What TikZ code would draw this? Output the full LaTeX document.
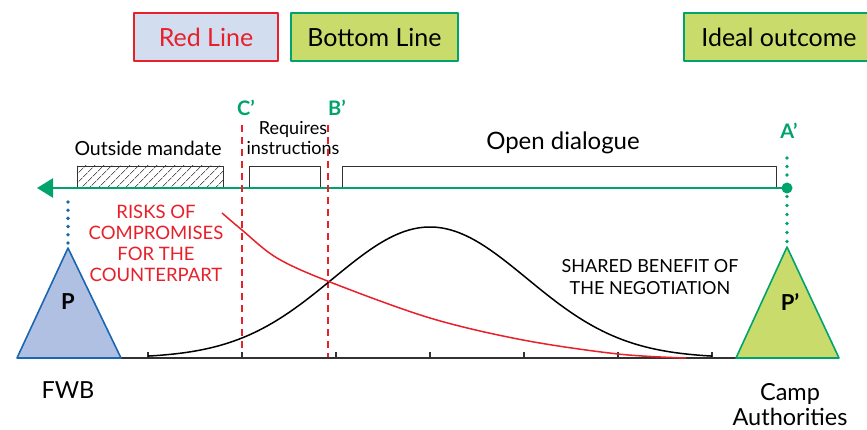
\documentclass[tikz,border=0pt]{standalone}
\usepackage{fontspec}
\setmainfont{Lato}
\usetikzlibrary{arrows.meta,patterns.meta}
\definecolor{negred}{RGB}{232,32,42}
\definecolor{neggreen}{RGB}{0,163,108}
\definecolor{negblue}{RGB}{26,102,176}
\definecolor{boxblue}{RGB}{210,222,240}
\definecolor{boxlime}{RGB}{201,220,107}
\definecolor{triblue}{RGB}{176,192,226}
\definecolor{axisgray}{RGB}{50,50,50}

\begin{document}
\begin{tikzpicture}[x=1pt,y=-1pt,line join=round,every node/.style={inner sep=1pt},
  topbox/.style={draw,line width=1.4pt,minimum height=48pt,font=\fontsize{25}{28}\selectfont},
  zonebox/.style={draw=axisgray,line width=0.8pt},
  zonetext/.style={font=\fontsize{19.5}{22}\selectfont,align=center},
  marker/.style={text=neggreen,font=\fontsize{20}{22}\selectfont\bfseries},
  redlimit/.style={draw=negred,line width=1.6pt,dash pattern=on 7pt off 5pt},
  party/.style={font=\fontsize{23.5}{25}\selectfont,align=center}]
  \useasboundingbox (0,0) rectangle (867,430);
  % cadres du haut
  \node[topbox,draw=negred,fill=boxblue,text=negred,minimum width=144pt] (redline) at (206,37) {Red Line};
  \node[topbox,draw=neggreen,fill=boxlime,minimum width=167pt] (bottomline) at (374.5,37) {Bottom Line};
  \node[topbox,draw=neggreen,fill=boxlime,minimum width=190pt] (ideal) at (779,37) {Ideal outcome};
  % zones le long de l'axe
  \draw[zonebox,pattern={Lines[angle=45,distance=6.5pt,line width=0.6pt]}] (77,166) rectangle (223,188);
  \draw[zonebox] (249,166) rectangle (320,188);
  \draw[zonebox] (342,166) rectangle (776,188);
  \node[zonetext] (outside) at (148,148) {Outside mandate};
  \node[zonetext,font=\fontsize{18}{20}\selectfont] (requires) at (293,138) {Requires\\instructions};
  \node[zonetext,font=\fontsize{24}{26}\selectfont] (open) at (563,143) {Open dialogue};
  % axe vert
  \coordinate (tip) at (37,188);
  \coordinate (aprime) at (787,188);
  \draw[neggreen,line width=2.4pt,-{Triangle[length=16pt,width=19pt]}] (aprime) -- (tip);
  \fill[neggreen] (aprime) circle (5.5);
  \node[marker] (A) at (789,131) {A’};
  \foreach \y in {158,166.5,175}
    \fill[neggreen] (787,\y) circle (1.9);
  % lignes rouges C' et B'
  \node[marker] (C) at (246,108) {C’};
  \node[marker] (B) at (337,108) {B’};
  \draw[redlimit] (242,125) -- (242,358);
  \draw[redlimit] (328,125) -- (328,358);
  % axe du bas
  \draw[axisgray,line width=1.3pt] (78,358) -- (748,358);
  \foreach \t in {148,242,336,430,524,618,712}
    \draw[axisgray,line width=1.3pt] (\t,358) -- (\t,352);
  % courbes
  \draw[black,line width=1.5pt] plot[domain=148:712,samples=120]
    (\x,{358-131*exp(-0.5*((\x-430)/97)^2)});
  \draw[negred,line width=1.5pt] plot[smooth,tension=0.55] coordinates
    {(222,213) (242,230) (277,258) (330,282) (430,318) (523,340) (618,354) (686,358)};
  \node[zonetext,text=negred,font=\fontsize{18.5}{21}\selectfont] (risks) at (156,243)
    {RISKS OF\\COMPROMISES\\FOR THE\\COUNTERPART};
  \node[zonetext,font=\fontsize{18}{22}\selectfont] (shared) at (650,277)
    {SHARED BENEFIT OF\\THE NEGOTIATION};
  % parties
  \draw[negblue,line width=1.6pt,fill=triblue] (17,358) -- (68,248) -- (121,358) -- cycle;
  \draw[neggreen,line width=1.6pt,fill=boxlime] (736,358) -- (787,247) -- (839,358) -- cycle;
  \foreach \y in {202,210.2,218.4,226.6,234.8,243}
    \fill[negblue] (68,\y) circle (1.9);
  \foreach \y in {196.5,205.5,214.5,223.5,232.5,241.5}
    \fill[neggreen] (787,\y) circle (1.9);
  \node[font=\fontsize{22}{24}\selectfont\bfseries] (P) at (68,302) {P};
  \node[font=\fontsize{22}{24}\selectfont\bfseries] (Pp) at (790,302) {P’};
  \node[party] (fwb) at (68,390) {FWB};
  \node[party] (camp) at (790,405) {Camp\\Authorities};
\end{tikzpicture}
\end{document}
